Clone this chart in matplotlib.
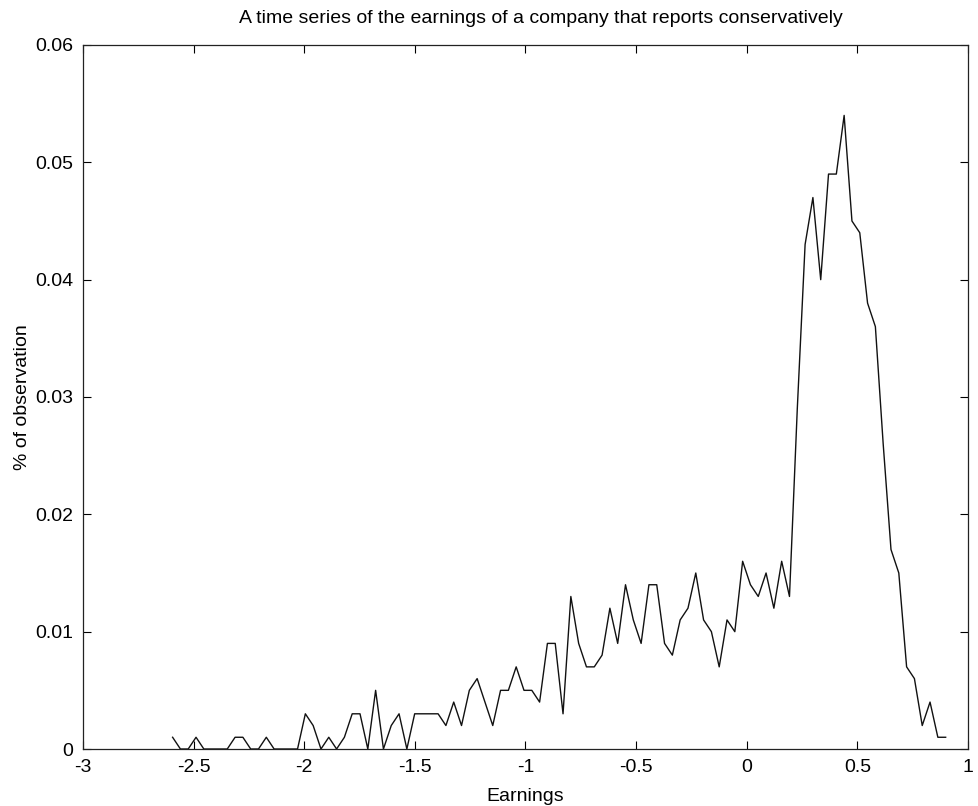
import numpy as np
import matplotlib
matplotlib.use("Agg")
import matplotlib.pyplot as plt

# histogram of earnings: 100 equal bins, first and last bin centre
first_centre = -2.595
last_centre = 0.899
share = [
    0.001, 0, 0, 0.001, 0, 0, 0, 0, 0.001, 0.001,
    0, 0, 0.001, 0, 0, 0, 0, 0.003, 0.002, 0,
    0.001, 0, 0.001, 0.003, 0.003, 0, 0.005, 0, 0.002, 0.003,
    0, 0.003, 0.003, 0.003, 0.003, 0.002, 0.004, 0.002, 0.005, 0.006,
    0.004, 0.002, 0.005, 0.005, 0.007, 0.005, 0.005, 0.004, 0.009, 0.009,
    0.003, 0.013, 0.009, 0.007, 0.007, 0.008, 0.012, 0.009, 0.014, 0.011,
    0.009, 0.014, 0.014, 0.009, 0.008, 0.011, 0.012, 0.015, 0.011, 0.010,
    0.007, 0.011, 0.010, 0.016, 0.014, 0.013, 0.015, 0.012, 0.016, 0.013,
    0.029, 0.043, 0.047, 0.040, 0.049, 0.049, 0.054, 0.045, 0.044, 0.038,
    0.036, 0.026, 0.017, 0.015, 0.007, 0.006, 0.002, 0.004, 0.001, 0.001,
]
centres = np.linspace(first_centre, last_centre, len(share))

x_ticks = [-3, -2.5, -2, -1.5, -1, -0.5, 0, 0.5, 1]
x_labels = ["-3", "-2.5", "-2", "-1.5", "-1", "-0.5", "0", "0.5", "1"]
y_ticks = [0, 0.01, 0.02, 0.03, 0.04, 0.05, 0.06]
y_labels = ["0", "0.01", "0.02", "0.03", "0.04", "0.05", "0.06"]

plt.rcParams["font.family"] = ["Liberation Sans", "DejaVu Sans"]
plt.rcParams["font.size"] = 14

fig = plt.figure(figsize=(9.79, 8.06), dpi=100)
ax = fig.add_axes([83 / 979, 57 / 806, 885 / 979, 704 / 806])

ax.plot(centres, share, color="#111111", linewidth=1.0)

ax.set_xlim(-3, 1)
ax.set_ylim(0, 0.06)
ax.set_xticks(x_ticks, x_labels)
ax.set_yticks(y_ticks, y_labels)
ax.tick_params(direction="in", top=True, right=True, length=6, width=0.8, pad=7)
for s in ax.spines.values():
    s.set_linewidth(0.9)
    s.set_color("#222222")

ax.set_title("A time series of the earnings of a company that reports conservatively",
             fontsize=14, pad=16, x=0.517)
ax.set_xlabel("Earnings", labelpad=9)
ax.set_ylabel("% of observation", labelpad=3)

fig.savefig("out.png", dpi=100)
